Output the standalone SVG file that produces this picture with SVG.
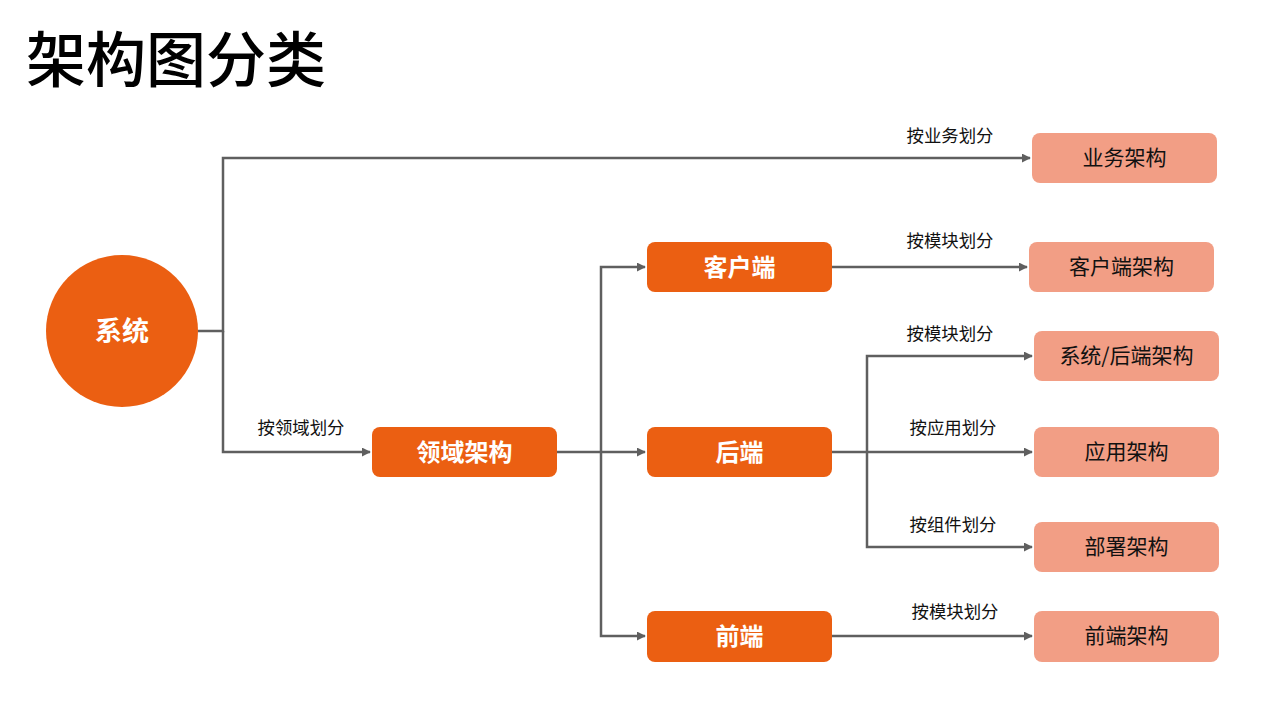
<svg xmlns="http://www.w3.org/2000/svg" width="1269" height="702" viewBox="0 0 1269 702">
<style>
text{font-family:"Noto Sans CJK SC","Noto Sans",sans-serif;}
.title{font-size:60px;font-weight:500;fill:#000;}
.dark{fill:#EB5F12;}
.light{fill:#F29E85;}
.wt{fill:#fff;font-size:24px;font-weight:700;text-anchor:middle;dominant-baseline:central;}
.bt{fill:#111;font-size:21px;text-anchor:middle;dominant-baseline:central;}
.lbl{fill:#111;font-size:17.4px;text-anchor:middle;}
.c{fill:none;stroke:#5f5f5f;stroke-width:2.5;}
</style>
<defs>
<marker id="ah" viewBox="0 0 10 10" refX="9" refY="5" markerWidth="9" markerHeight="9" markerUnits="userSpaceOnUse" orient="auto">
<path d="M0,0 L10,5 L0,10 z" fill="#5f5f5f"/>
</marker>
</defs>
<rect width="1269" height="702" fill="#fff"/>
<text class="title" x="26" y="82">架构图分类</text>

<g id="connectors">
<path class="c" d="M198,331 H223 V158 H1030" marker-end="url(#ah)"/>
<path class="c" d="M223,331 V452 H370" marker-end="url(#ah)"/>
<path class="c" d="M557,452 H645" marker-end="url(#ah)"/>
<path class="c" d="M601,452 V267 H645" marker-end="url(#ah)"/>
<path class="c" d="M601,452 V636 H645" marker-end="url(#ah)"/>
<path class="c" d="M832,267 H1027" marker-end="url(#ah)"/>
<path class="c" d="M832,452 H1032" marker-end="url(#ah)"/>
<path class="c" d="M867,452 V356 H1032" marker-end="url(#ah)"/>
<path class="c" d="M867,452 V547 H1032" marker-end="url(#ah)"/>
<path class="c" d="M832,636 H1032" marker-end="url(#ah)"/>
<text class="lbl" x="950" y="142">按业务划分</text>
<text class="lbl" x="950" y="247">按模块划分</text>
<text class="lbl" x="950" y="340">按模块划分</text>
<text class="lbl" x="953" y="434">按应用划分</text>
<text class="lbl" x="953" y="531">按组件划分</text>
<text class="lbl" x="955" y="618">按模块划分</text>
<text class="lbl" x="301" y="434">按领域划分</text>
</g>

<g id="system"><circle class="dark" cx="122" cy="331" r="76"/><text class="wt" x="122" y="329" style="font-size:27px;font-weight:600">系统</text></g>
<g id="domain"><rect class="dark" x="372" y="427" width="185" height="50" rx="8"/><text class="wt" x="464.5" y="450">领域架构</text></g>
<g id="client"><rect class="dark" x="647" y="242" width="185" height="50" rx="8"/><text class="wt" x="739.5" y="265">客户端</text></g>
<g id="backend"><rect class="dark" x="647" y="427" width="185" height="50" rx="8"/><text class="wt" x="739.5" y="450">后端</text></g>
<g id="frontend"><rect class="dark" x="647" y="611" width="185" height="51" rx="8"/><text class="wt" x="739.5" y="634">前端</text></g>

<g id="business-arch"><rect class="light" x="1032" y="133" width="185" height="50" rx="8"/><text class="bt" x="1124.5" y="156">业务架构</text></g>
<g id="client-arch"><rect class="light" x="1029" y="242" width="185" height="50" rx="8"/><text class="bt" x="1121.5" y="265">客户端架构</text></g>
<g id="system-backend-arch"><rect class="light" x="1034" y="331" width="185" height="50" rx="8"/><text class="bt" x="1126.5" y="354">系统/后端架构</text></g>
<g id="app-arch"><rect class="light" x="1034" y="427" width="185" height="50" rx="8"/><text class="bt" x="1126.5" y="450">应用架构</text></g>
<g id="deploy-arch"><rect class="light" x="1034" y="522" width="185" height="50" rx="8"/><text class="bt" x="1126.5" y="545">部署架构</text></g>
<g id="frontend-arch"><rect class="light" x="1034" y="611" width="185" height="51" rx="8"/><text class="bt" x="1126.5" y="634">前端架构</text></g>
</svg>
